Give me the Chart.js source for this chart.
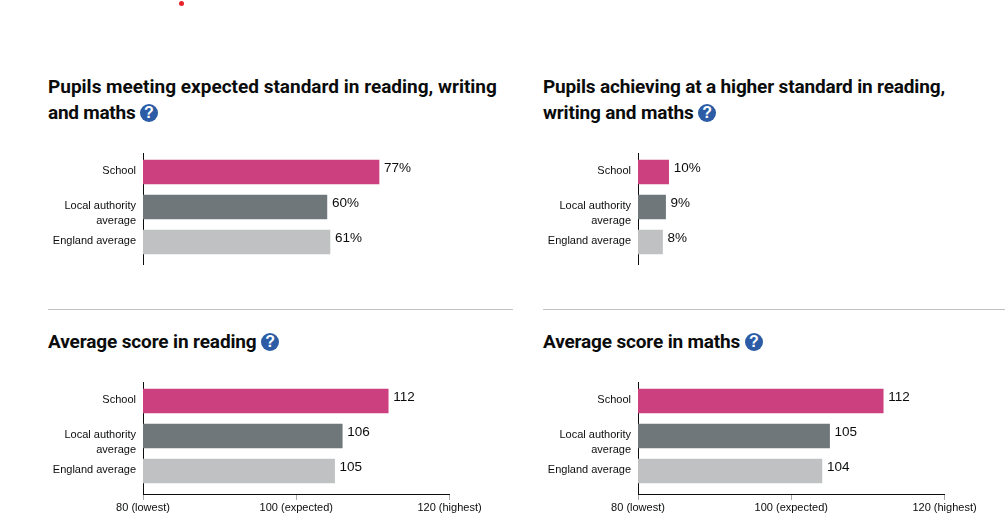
<!DOCTYPE html>
<html>
<head>
<meta charset="utf-8">
<script src="https://cdn.jsdelivr.net/npm/chart.js@4"></script>
<style>
    html, body { margin: 0; padding: 0; width: 1005px; height: 528px; overflow: hidden; background: #fff; }
    canvas { position: absolute; }
    .title { position: absolute; margin: 0; font: 700 19px/26px Roboto, sans-serif; color: #0b0c0c; white-space: nowrap; }
    .help { display: inline-block; width: 18px; height: 18px; margin-left: 0; border-radius: 50%; background: #2b5ca5; color: #fff;
            font: 700 16px/18px "Liberation Sans", sans-serif; letter-spacing: 0; text-align: center; vertical-align: top; margin-top: 4px; }
    .rule { position: absolute; top: 309px; height: 1px; background: #bfc1c3; }
    .dot { position: absolute; left: 179px; top: 1px; width: 5px; height: 5px; border-radius: 50%; background: #e8232a; }
</style>
</head>
<body>
<div class="dot"></div>
<h2 class="title" style="left:48px;top:74px">Pupils meeting expected standard in reading, writing<br><span style="letter-spacing:-.25px">and maths </span><span class="help">?</span></h2>
<h2 class="title" style="left:543px;top:74px;letter-spacing:-.16px">Pupils achieving at a higher standard in reading,<br>writing and maths <span class="help">?</span></h2>
<div class="rule" style="left:48px;width:465px"></div>
<div class="rule" style="left:543px;width:462px"></div>
<h2 class="title" style="left:48px;top:329px;letter-spacing:-.13px">Average score in reading <span class="help">?</span></h2>
<h2 class="title" style="left:543px;top:329px;letter-spacing:-.16px">Average score in maths <span class="help">?</span></h2>

<canvas id="expected" width="460" height="112" style="left:40px;top:153px"></canvas>
<canvas id="higher" width="460" height="112" style="left:535px;top:153px"></canvas>
<canvas id="reading" width="460" height="142" style="left:40px;top:382px"></canvas>
<canvas id="maths" width="460" height="142" style="left:535px;top:382px"></canvas>

<script>
const categories = ['School', ['Local authority', 'average'], 'England average'];
const barColors = ['#cc4080', '#6f777b', '#bfc1c3'];

const expectedValues = [77, 60, 61];
const higherValues = [10, 9, 8];
const readingValues = [112, 106, 105];
const mathsValues = [112, 105, 104];

const scoreTicks = {80: '80 (lowest)', 100: '100 (expected)', 120: '120 (highest)'};

//Draws the value next to the end of every bar
const valueLabels = {
    id: 'valueLabels',
    afterDatasetsDraw(chart) {
        const c = chart.ctx, suffix = chart.options.plugins.valueLabels.suffix;
        c.save();
        c.font = '13.5px "Liberation Sans", Arial, sans-serif';
        c.fillStyle = '#0b0c0c';
        c.textBaseline = 'middle';
        chart.getDatasetMeta(0).data.forEach((bar, i) => {
            c.fillText(chart.data.datasets[0].data[i].x + suffix, bar.x + 5, bar.y - 4);
        });
        c.restore();
    }
};

function drawChart(id, values, suffix, min, max, showAxis) {
    new Chart(document.getElementById(id), {
        type: 'bar',
        data: {
            datasets: [{
                data: values.map((v, i) => ({x: v, y: i})),
                backgroundColor: barColors,
                barThickness: 24
            }]
        },
        options: {
            indexAxis: 'y',
            responsive: false,
            animation: false,
            layout: {padding: {right: 50.5}},
            plugins: {
                legend: {display: false},
                tooltip: {enabled: false},
                valueLabels: {suffix: suffix}
            },
            scales: {
                x: {
                    type: 'linear',
                    display: showAxis,
                    min: min,
                    max: max,
                    afterFit: (s) => { s.height = showAxis ? 30 : 0; },
                    afterBuildTicks: (s) => { s.ticks = [{value: 80}, {value: 100}, {value: 120}]; },
                    border: {color: '#0b0c0c', width: 1},
                    grid: {drawOnChartArea: false, tickLength: 6, tickColor: '#aaa'},
                    ticks: {
                        maxRotation: 0,
                        autoSkip: false,
                        padding: 1,
                        color: '#0b0c0c',
                        font: {family: '"Liberation Sans", Arial, sans-serif', size: 11},
                        callback: (v) => scoreTicks[v]
                    }
                },
                y: {
                    type: 'linear',
                    reverse: true,
                    offset: false,
                    min: -0.543,
                    max: 2.657,
                    afterFit: (s) => { s.width = 103; s.paddingTop = 0; s.paddingBottom = 0; },
                    //labels sit a little off the bar centre, first line lines up with the bar
                    afterBuildTicks: (s) => { s.ticks = [{value: -0.03}, {value: 1.19}, {value: 1.97}]; },
                    border: {color: '#0b0c0c', width: 1},
                    grid: {display: false, drawTicks: false},
                    ticks: {
                        autoSkip: false,
                        padding: 7,
                        color: '#0b0c0c',
                        font: {family: '"Liberation Sans", Arial, sans-serif', size: 11, lineHeight: 1.36},
                        callback: (v, i) => categories[i]
                    }
                }
            }
        },
        plugins: [valueLabels]
    });
}

drawChart('expected', expectedValues, '%', 0, 100, false);
drawChart('higher', higherValues, '%', 0, 100, false);
drawChart('reading', readingValues, '', 80, 120, true);
drawChart('maths', mathsValues, '', 80, 120, true);
</script>
</body>
</html>
